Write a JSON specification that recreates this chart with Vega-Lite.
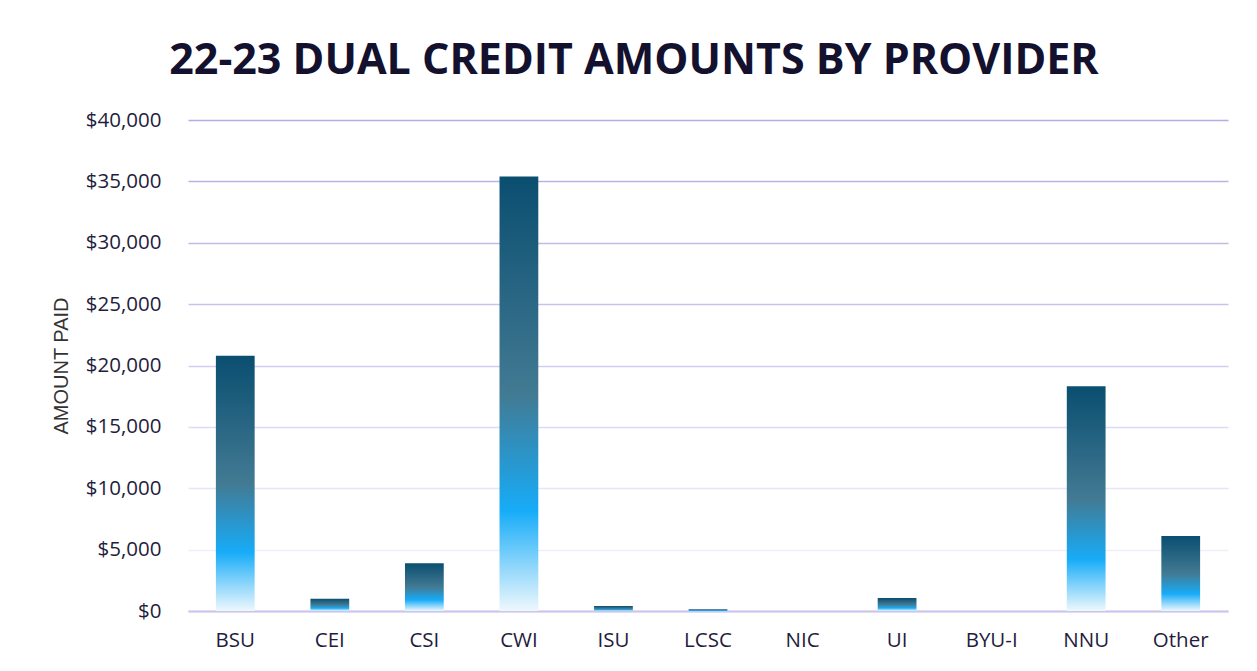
{
  "$schema": "https://vega.github.io/schema/vega-lite/v6.json",
  "width": 1040,
  "height": 491,
  "autosize": "none",
  "padding": {"left": 188, "top": 120, "right": 29, "bottom": 60},
  "background": "white",
  "data": {"values": [
    {"provider": "BSU", "amount": 20800},
    {"provider": "CEI", "amount": 1000},
    {"provider": "CSI", "amount": 3900},
    {"provider": "CWI", "amount": 35400},
    {"provider": "ISU", "amount": 400},
    {"provider": "LCSC", "amount": 150},
    {"provider": "NIC", "amount": 0},
    {"provider": "UI", "amount": 1050},
    {"provider": "BYU-I", "amount": 0},
    {"provider": "NNU", "amount": 18300},
    {"provider": "Other", "amount": 6100}
  ]},
  "title": {
    "text": "22-23 DUAL CREDIT AMOUNTS BY PROVIDER",
    "font": "Open Sans",
    "fontSize": 43,
    "fontWeight": "bold",
    "color": "#14112f",
    "anchor": "middle",
    "dx": -74,
    "offset": 27
  },
  "mark": {
    "type": "bar",
    "color": {
      "gradient": "linear",
      "x1": 0, "y1": 0, "x2": 0, "y2": 1,
      "stops": [
        {"offset": 0, "color": "#0a4e70"},
        {"offset": 0.5, "color": "#427a93"},
        {"offset": 0.77, "color": "#17acf8"},
        {"offset": 1, "color": "#eef8fd"}
      ]
    }
  },
  "encoding": {
    "x": {
      "field": "provider",
      "type": "nominal",
      "sort": null,
      "scale": {"paddingInner": 0.59, "paddingOuter": 0.295},
      "axis": {
        "title": null,
        "labelAngle": 0,
        "labelFont": "Open Sans",
        "labelFontSize": 20.5,
        "labelColor": "#1f1d3d",
        "labelPadding": 19,
        "ticks": false,
        "domainColor": "#cdc6ec",
        "domainWidth": 2
      }
    },
    "y": {
      "field": "amount",
      "type": "quantitative",
      "scale": {"domain": [0, 40000]},
      "axis": {
        "title": "AMOUNT PAID",
        "titleFont": "Liberation Sans",
        "titleFontSize": 20,
        "titleFontWeight": "normal",
        "titleColor": "#333333",
        "titlePadding": 14,
        "values": [0, 5000, 10000, 15000, 20000, 25000, 30000, 35000, 40000],
        "format": "$,.0f",
        "labelFont": "Open Sans",
        "labelFontSize": 20.5,
        "labelColor": "#1f1d3d",
        "labelPadding": 27,
        "ticks": false,
        "domain": false,
        "gridWidth": 1.5,
        "gridColor": {
          "condition": [
            {"test": "datum.value >= 40000", "value": "#b4ace3"},
            {"test": "datum.value >= 35000", "value": "#bab2e5"},
            {"test": "datum.value >= 30000", "value": "#c1bae8"},
            {"test": "datum.value >= 25000", "value": "#c9c3eb"},
            {"test": "datum.value >= 20000", "value": "#d2cdef"},
            {"test": "datum.value >= 15000", "value": "#dddaf3"},
            {"test": "datum.value >= 10000", "value": "#e7e5f7"},
            {"test": "datum.value >= 5000", "value": "#efeef9"}
          ],
          "value": "#cdc6ec"
        }
      }
    }
  },
  "config": {"view": {"stroke": null}}
}
